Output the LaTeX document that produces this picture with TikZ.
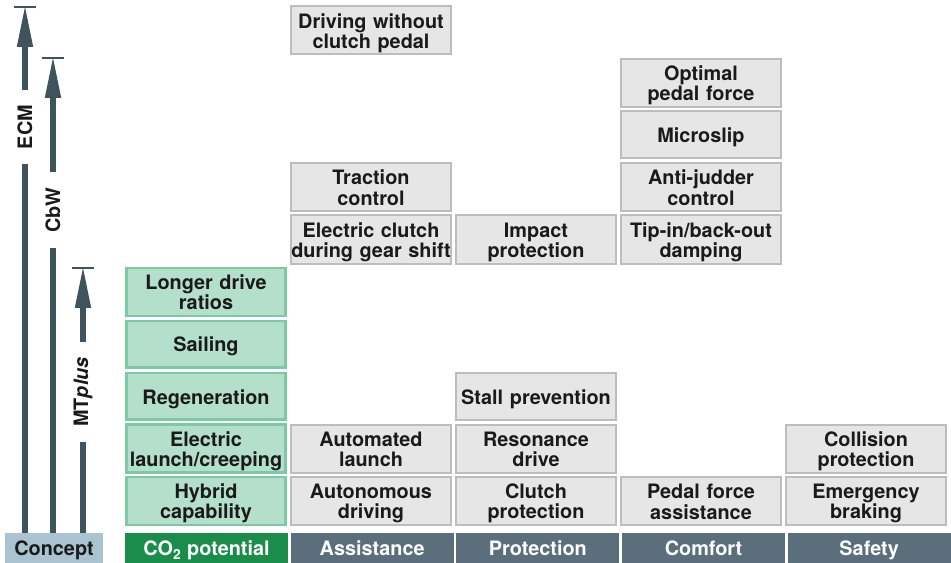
\documentclass[tikz,border=0pt]{standalone}
\usepackage{fontspec}
\setmainfont{TeX Gyre Heros}
\usetikzlibrary{arrows.meta,positioning}
\definecolor{ink}{HTML}{1A1A1A}
\definecolor{cellfill}{HTML}{E6E6E6}
\definecolor{cellline}{HTML}{BDBDBD}
\definecolor{mintfill}{HTML}{B3DFCB}
\definecolor{mintline}{HTML}{7CC9A6}
\definecolor{leaf}{HTML}{1B8D4B}
\definecolor{slate}{HTML}{5A6E7C}
\definecolor{mist}{HTML}{A9C3D0}
\definecolor{shaft}{HTML}{3E535B}

\begin{document}
\begin{tikzpicture}[x=0.02cm,y=-0.02cm,
    lbl/.style={font=\fontsize{11.3}{11.5}\selectfont\bfseries,text=ink,align=center},
    cell/.style={lbl,draw=cellline,fill=cellfill,line width=0.04cm,text width=3.2cm,minimum width=3.2cm,minimum height=0.94cm,inner xsep=0pt,inner ysep=1pt,
      execute at begin node={\noindent\rule{0pt}{11.4pt}},execute at end node={\rule[-2.4pt]{0pt}{0pt}}},
    mint/.style={cell,draw=mintline,fill=mintfill,line width=0.05cm,text width=3.19cm,minimum width=3.19cm,minimum height=0.93cm},
    head/.style={lbl,text=white,fill=slate,minimum width=3.26cm,minimum height=0.6cm,inner sep=0pt,
      execute at begin node={\rule{0pt}{11.4pt}},execute at end node={\rule[-2.4pt]{0pt}{0pt}}},
    tag/.style={lbl,rotate=90,inner xsep=0.3cm,inner ysep=1pt},
    shaftline/.style={line width=0.13cm,draw=shaft},
    shafttip/.style={shaftline,-{Triangle[length=0.8cm,width=0.33cm,line width=0pt]}},
    capline/.style={line width=0.04cm,draw=shaft}]
  \useasboundingbox (0,0) rectangle (951,563);

  % category bar along the bottom
  \node[head,text=ink,fill=mist,minimum width=1.96cm] (concept) at (54,548) {Concept};
  \node[head,fill=leaf] (co2) at (206.5,548) {CO\textsubscript{2} potential};
  \node[head,right=0.04cm of co2] (assist) {Assistance};
  \node[head,right=0.04cm of assist] (protect) {Protection};
  \node[head,right=0.04cm of protect] (comfort) {Comfort};
  \node[head,right=0.04cm of comfort] (safety) {Safety};

  % CO2 potential
  \node[mint] (hybrid) at (206,501) {Hybrid\\capability};
  \node[mint] (elaunch) at (206,448.7) {Electric\\launch/creeping};
  \node[mint] (regen) at (206,396.4) {Regeneration};
  \node[mint] (sailing) at (206,344.1) {Sailing};
  \node[mint] (ratios) at (206,291.8) {Longer drive\\ratios};

  % Assistance
  \node[cell] (autodrive) at (371,501) {Autonomous\\driving};
  \node[cell] (autolaunch) at (371,448.7) {Automated\\launch};
  \node[cell] (eclutch) at (371,239.5) {Electric clutch\\during gear shift};
  \node[cell] (traction) at (371,187.2) {Traction\\control};
  \node[cell] (nopedal) at (371,30.3) {Driving without\\clutch pedal};

  % Protection
  \node[cell] (clutchprot) at (536,501) {Clutch\\protection};
  \node[cell] (resonance) at (536,448.7) {Resonance\\drive};
  \node[cell] (stall) at (536,396.4) {Stall prevention};
  \node[cell] (impact) at (536,239.5) {Impact\\protection};

  % Comfort
  \node[cell] (pedalassist) at (701,501) {Pedal force\\assistance};
  \node[cell] (tipin) at (701,239.5) {Tip-in/back-out\\damping};
  \node[cell] (judder) at (701,187.2) {Anti-judder\\control};
  \node[cell] (microslip) at (701,134.9) {Microslip};
  \node[cell] (optpedal) at (701,82.6) {Optimal\\pedal force};

  % Safety
  \node[cell] (braking) at (866,501) {Emergency\\braking};
  \node[cell] (collision) at (866,448.7) {Collision\\protection};

  % concept arrows
  \coordinate (ecmbase) at (25,533);
  \coordinate (ecmtop) at (25,7);
  \coordinate (cbwbase) at (53,533);
  \coordinate (cbwtop) at (53,58);
  \coordinate (mtbase) at (83,533);
  \coordinate (mttop) at (83,268);
  \node[tag] (ecm) at (25,127) {ECM};
  \node[tag] (cbw) at (53,210) {CbW};
  \node[tag] (mt) at (83,392) {MT\textit{plus}};
  \draw[shaftline] (ecmbase) -- (ecm);
  \draw[shafttip] (ecm) -- (ecmtop);
  \draw[shaftline] (cbwbase) -- (cbw);
  \draw[shafttip] (cbw) -- (cbwtop);
  \draw[shaftline] (mtbase) -- (mt);
  \draw[shafttip] (mt) -- (mttop);
  \draw[capline] ([xshift=-0.23cm]ecmtop) -- ([xshift=0.23cm]ecmtop);
  \draw[capline] ([xshift=-0.22cm]cbwtop) -- ([xshift=0.22cm]cbwtop);
  \draw[capline] ([xshift=-0.22cm]mttop) -- ([xshift=0.22cm]mttop);
\end{tikzpicture}
\end{document}
